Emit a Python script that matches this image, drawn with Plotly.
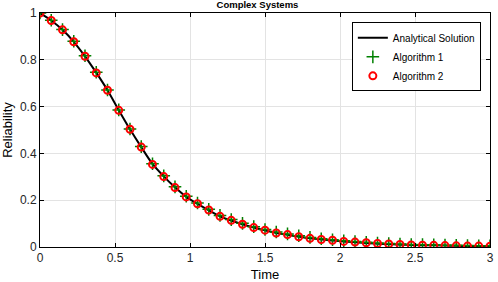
import plotly.graph_objects as go

time = [0.0, 0.075, 0.15, 0.225, 0.3, 0.375, 0.45, 0.525, 0.6, 0.675, 0.75, 0.825, 0.9, 0.975,
        1.05, 1.125, 1.2, 1.275, 1.35, 1.425, 1.5, 1.575, 1.65, 1.725, 1.8, 1.875, 1.95, 2.025,
        2.1, 2.175, 2.25, 2.325, 2.4, 2.475, 2.55, 2.625, 2.7, 2.775, 2.85, 2.925, 3.0]
analytical = [1.0, 0.968, 0.928, 0.877, 0.815, 0.745, 0.670, 0.585, 0.503, 0.427, 0.355, 0.302,
              0.255, 0.214, 0.184, 0.157, 0.131, 0.113, 0.097, 0.083, 0.071, 0.060, 0.052, 0.044,
              0.037, 0.032, 0.028, 0.024, 0.020, 0.017, 0.014, 0.012, 0.010, 0.009, 0.008, 0.007,
              0.006, 0.005, 0.004, 0.004, 0.003]
alg1 = [1.0, 0.969, 0.929, 0.879, 0.817, 0.747, 0.671, 0.586, 0.504, 0.429, 0.356, 0.304,
        0.257, 0.217, 0.188, 0.161, 0.135, 0.117, 0.101, 0.087, 0.075, 0.064, 0.056, 0.048,
        0.041, 0.035, 0.031, 0.027, 0.023, 0.020, 0.017, 0.015, 0.013, 0.011, 0.010, 0.009,
        0.008, 0.007, 0.006, 0.005, 0.005]
alg2 = [1.0, 0.968, 0.928, 0.877, 0.815, 0.744, 0.670, 0.584, 0.503, 0.427, 0.353, 0.301,
        0.254, 0.214, 0.185, 0.158, 0.131, 0.114, 0.097, 0.083, 0.072, 0.060, 0.053, 0.044,
        0.037, 0.032, 0.029, 0.024, 0.021, 0.018, 0.015, 0.013, 0.011, 0.009, 0.008, 0.007,
        0.006, 0.005, 0.004, 0.004, 0.003]

x_ticks = [0, 0.5, 1, 1.5, 2, 2.5, 3]
x_labels = ["0", "0.5", "1", "1.5", "2", "2.5", "3"]
y_ticks = [0, 0.2, 0.4, 0.6, 0.8, 1]
y_labels = ["0", "0.2", "0.4", "0.6", "0.8", "1"]

FONT = "Liberation Sans, Arial, Helvetica, sans-serif"

fig = go.Figure()
fig.add_trace(go.Scatter(x=time, y=analytical, mode="lines", name="Analytical Solution",
                         line=dict(color="black", width=2, shape="spline")))
fig.add_trace(go.Scatter(x=time, y=alg1, mode="markers", name="Algorithm 1",
                         marker=dict(symbol="cross-thin", size=9, color="#008000",
                                     line=dict(color="#008000", width=1.5))))
fig.add_trace(go.Scatter(x=time, y=alg2, mode="markers", name="Algorithm 2",
                         marker=dict(symbol="circle-open", size=7, color="#ff0000",
                                     line=dict(color="#ff0000", width=2))))

axis_common = dict(showgrid=True, gridcolor="#e3e3e3", gridwidth=1, zeroline=False,
                   showline=True, linecolor="black", linewidth=1, mirror="ticks",
                   ticks="inside", ticklen=4, tickcolor="black", automargin=False,
                   tickfont=dict(family=FONT, size=12, color="#262626"))

fig.update_layout(
    width=498, height=282,
    margin=dict(l=40, r=8, t=13, b=35),
    paper_bgcolor="white", plot_bgcolor="white",
    title=dict(text="<b>Complex Systems</b>", x=0.517, xanchor="center", y=0.995, yanchor="top",
               font=dict(family=FONT, size=9.5, color="black")),
    xaxis=dict(range=[0, 3], tickvals=x_ticks, ticktext=x_labels,
               title=dict(text="Time", font=dict(family=FONT, size=13, color="black"), standoff=6),
               **axis_common),
    yaxis=dict(range=[0, 1], tickvals=y_ticks, ticktext=y_labels,
               title=dict(text="Reliability", font=dict(family=FONT, size=13, color="black"), standoff=6),
               **axis_common),
    legend=dict(x=0.693, y=0.96, xanchor="left", yanchor="top", bgcolor="white",
                bordercolor="black", borderwidth=1, tracegroupgap=0, itemwidth=30,
                font=dict(family=FONT, size=10, color="black")),
    showlegend=True,
)

fig.write_html("out.html")
